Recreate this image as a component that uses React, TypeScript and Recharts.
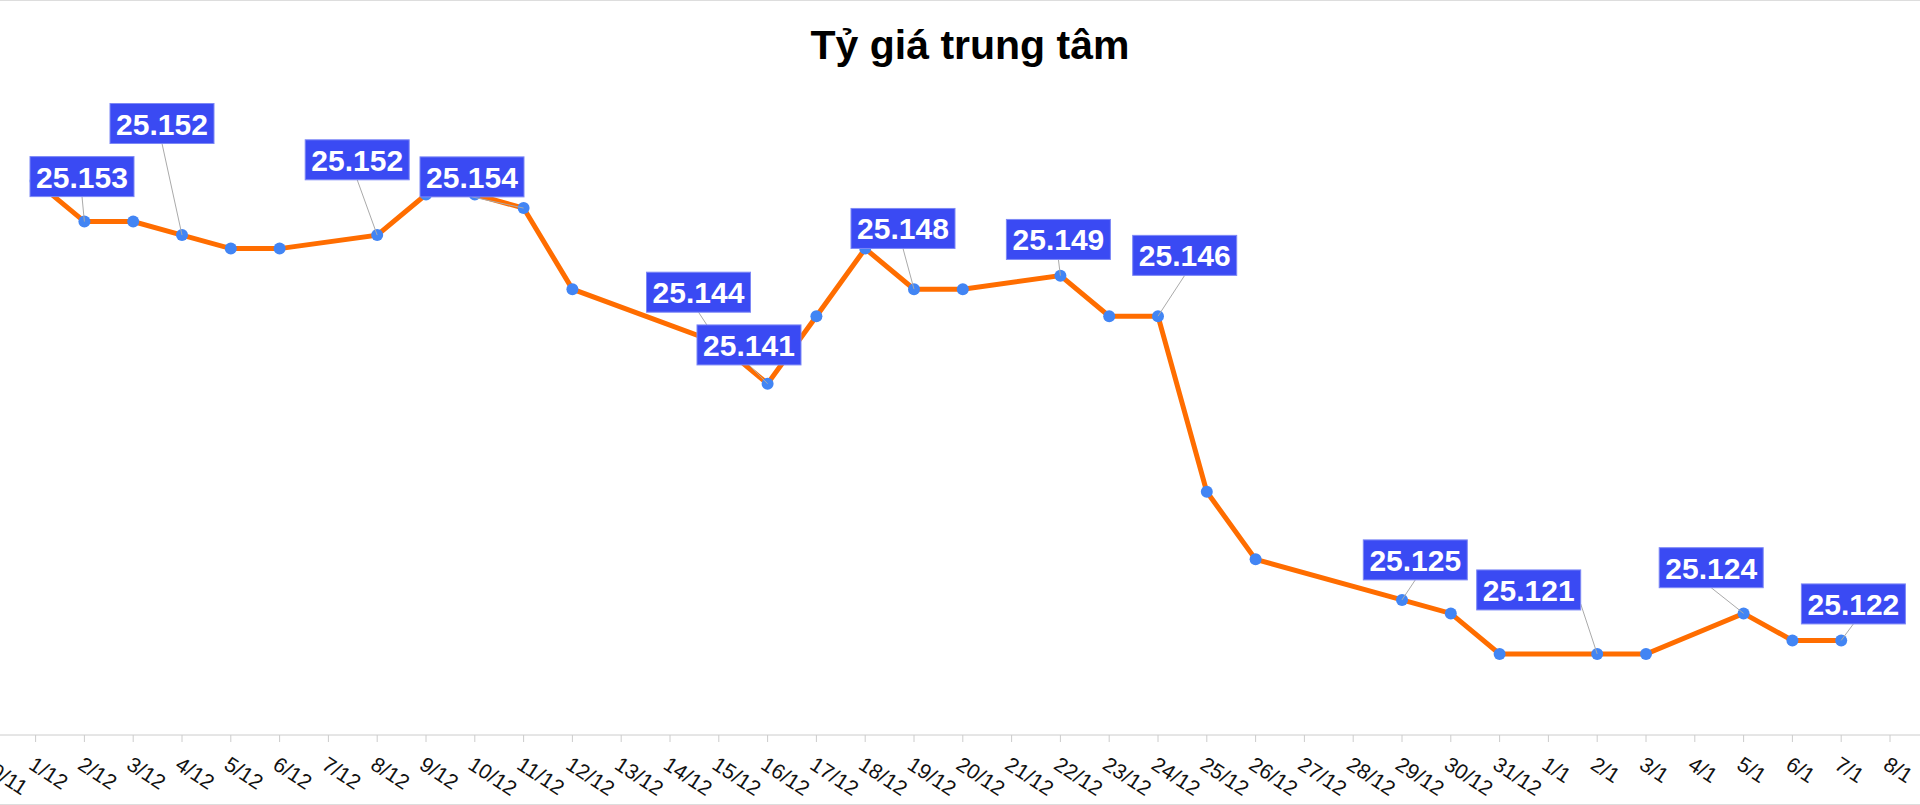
import React from 'react';
import { LineChart, Line, XAxis, YAxis, LabelList } from 'recharts';

// Categories (dates on the x axis)
const dates: string[] = [
  '30/11', '1/12', '2/12', '3/12', '4/12', '5/12', '6/12', '7/12', '8/12', '9/12',
  '10/12', '11/12', '12/12', '13/12', '14/12', '15/12', '16/12', '17/12', '18/12', '19/12',
  '20/12', '21/12', '22/12', '23/12', '24/12', '25/12', '26/12', '27/12', '28/12', '29/12',
  '30/12', '31/12', '1/1', '2/1', '3/1', '4/1', '5/1', '6/1', '7/1', '8/1',
];

// Central exchange rate (VND / USD), null = no publication that day
const rates: (number | null)[] = [
  null, 25156, 25153, 25153, 25152, 25151, 25151, null, 25152, 25155,
  25155, 25154, 25148, null, null, 25144, 25141, 25146, 25151, 25148,
  25148, null, 25149, 25146, 25146, 25133, 25128, null, null, 25125,
  25124, 25121, null, 25121, 25121, null, 25124, 25122, 25122, null,
];

// Dates whose value is shown in a callout
const labelledDates: string[] = [
  '2/12', '4/12', '8/12', '11/12', '15/12', '16/12', '19/12', '22/12', '24/12',
  '29/12', '2/1', '5/1', '7/1',
];

const yDomain: [number, number] = [25115, 25162];

// Layout of the callouts relative to their point (box centre dx, box bottom dy)
const calloutLayout: Record<string, { dx: number; dy: number; from?: 'right' }> = {
  '2/12': { dx: -2.4, dy: -25 },
  '4/12': { dx: -20, dy: -91.6 },
  '8/12': { dx: -20, dy: -55.3 },
  '11/12': { dx: -51.6, dy: -11.2 },
  '15/12': { dx: -20.3, dy: -31 },
  '16/12': { dx: -18.6, dy: -18.8 },
  '19/12': { dx: -11, dy: -40.7 },
  '22/12': { dx: -2, dy: -16.2 },
  '24/12': { dx: 26.7, dy: -40.8 },
  '29/12': { dx: 13.3, dy: -20 },
  '2/1': { dx: -68.5, dy: -44, from: 'right' },
  '5/1': { dx: -32.4, dy: -25.7 },
  '7/1': { dx: 12.2, dy: -16.5 },
};

const data = dates.map((d, i) => ({ date: d, rate: rates[i] }));

const FONT = '"Liberation Sans", Arial, Helvetica, sans-serif';

const fmt = (v: number) => `${Math.floor(v / 1000)}.${String(v % 1000).padStart(3, '0')}`;

function AxisTick(props: any) {
  const { x, y, payload } = props;
  const tx = x - 8;
  const ty = y + 24;
  return (
    <text
      x={tx}
      y={ty}
      transform={`rotate(33 ${tx} ${ty})`}
      fontSize={21}
      fontFamily={FONT}
      fill="#111"
      textAnchor="start"
    >
      {payload.value}
    </text>
  );
}

function Callout(props: any) {
  const px = props.x ?? props.viewBox?.x;
  const py = props.y ?? props.viewBox?.y;
  const { value, index } = props;
  const d = dates[index];
  if (value == null || px == null || !labelledDates.includes(d)) return null;
  const cfg = calloutLayout[d] || { dx: 0, dy: -20 };
  const w = 104;
  const h = 40;
  const cx = px + cfg.dx;
  const bottom = py + cfg.dy;
  const left = cx - w / 2;
  const top = bottom - h;
  const sx = cfg.from === 'right' ? left + w : cx;
  const sy = cfg.from === 'right' ? bottom - 6 : bottom;
  return (
    <g>
      <line x1={sx} y1={sy} x2={px} y2={py} stroke="#aaaaaa" strokeWidth={1} />
      <rect x={left} y={top} width={w} height={h} fill="#3a4af3" stroke="#7d88f6" strokeWidth={1} />
      <text
        x={cx}
        y={top + 31}
        textAnchor="middle"
        fontSize={30}
        fontWeight="bold"
        fontFamily={FONT}
        fill="#ffffff"
      >
        {fmt(value)}
      </text>
    </g>
  );
}

export default function App() {
  return (
    <div style={{ position: 'absolute', left: 0, top: 0, width: 1920, height: 805, overflow: 'hidden', background: '#fff' }}>
      <div style={{ position: 'absolute', left: -20, top: 0 }}>
        <LineChart width={1940} height={805} data={data} margin={{ top: 100, right: 0, bottom: 0, left: 6.8 }}>
          <XAxis
            dataKey="date"
            interval={0}
            height={70}
            tickSize={7}
            padding={{ left: 0, right: 30 }}
            axisLine={{ stroke: '#cccccc' }}
            tickLine={{ stroke: '#cccccc' }}
            tick={<AxisTick />}
          />
          <YAxis hide domain={yDomain} type="number" />
          <Line
            type="linear"
            dataKey="rate"
            stroke="#ff6d00"
            strokeWidth={5}
            connectNulls
            dot={{ r: 6, fill: '#4285f4', stroke: 'none' }}
            activeDot={false}
            isAnimationActive={false}
          >
            <LabelList dataKey="rate" content={<Callout />} />
          </Line>
        </LineChart>
      </div>
      <svg width={1920} height={805} style={{ position: 'absolute', left: 0, top: 0, pointerEvents: 'none' }}>
        <line x1={0} y1={0.5} x2={1920} y2={0.5} stroke="#dddddd" />
        <line x1={0} y1={804.5} x2={1920} y2={804.5} stroke="#dddddd" />
        <text x={970} y={59} textAnchor="middle" fontSize={41} fontWeight="bold" fontFamily={FONT} fill="#000">
          Tỷ giá trung tâm
        </text>
      </svg>
    </div>
  );
}
